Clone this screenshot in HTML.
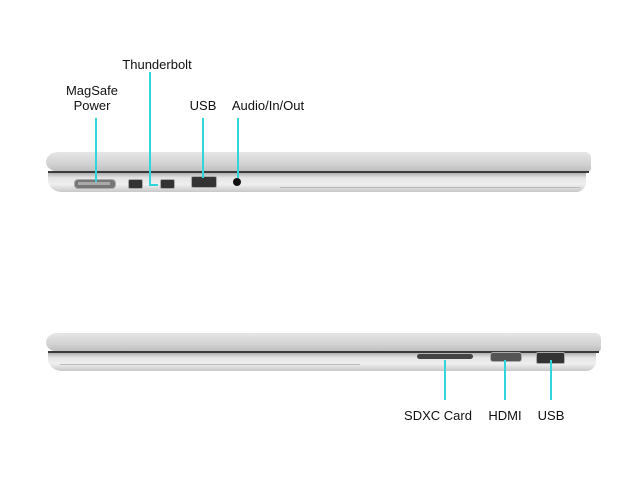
<!DOCTYPE html>
<html><head><style>
body{margin:0;width:640px;height:480px;background:#fff;position:relative;overflow:hidden;font-family:"Liberation Sans",sans-serif;}
.a{position:absolute}
.t{position:absolute;font-size:13px;color:#111;transform:translateX(-50%);white-space:nowrap;text-align:center;line-height:15px}
.c{position:absolute;background:#2fd6dc;width:2px}
.lid{position:absolute;border-radius:12px 6px 4px 14px/10px 6px 4px 10px;background:linear-gradient(#e6e6e6,#d2d2d2 60%,#bcbcbc)}
.base{position:absolute;border-radius:0 0 10px 14px/0 0 10px 12px;background:linear-gradient(#b0b0b0,#e4e4e4 25%,#efefef 60%,#c8c8c8)}
.gap{position:absolute;height:2px;background:#3a3a3a}
.p{position:absolute;background:#333;border:1px solid #aaa}
</style></head><body>
<div class="lid" style="left:46px;top:152px;width:545px;height:20px"></div>
<div class="gap" style="left:48px;top:171px;width:541px"></div>
<div class="base" style="left:48px;top:173px;width:538px;height:19px"></div>
<div class="a" style="left:74px;top:179px;width:40px;height:8px;background:#777;border-radius:4px;border:1px solid #aaa"></div>
<div class="a" style="left:78px;top:182px;width:32px;height:3px;background:#aaa"></div>
<div class="p" style="left:128px;top:179px;width:13px;height:8px;border-radius:2px"></div>
<div class="p" style="left:160px;top:179px;width:13px;height:8px;border-radius:2px"></div>
<div class="p" style="left:191px;top:176px;width:24px;height:10px;border-radius:2px"></div>
<div class="a" style="left:233px;top:178px;width:8px;height:8px;border-radius:50%;background:#111"></div>
<div class="a" style="left:280px;top:187px;width:300px;height:1px;background:#bbb"></div>
<div class="lid" style="left:46px;top:333px;width:555px;height:19px"></div>
<div class="gap" style="left:48px;top:351px;width:551px"></div>
<div class="base" style="left:48px;top:353px;width:548px;height:18px"></div>
<div class="a" style="left:417px;top:354px;width:56px;height:5px;background:#444;border-radius:3px"></div>
<div class="p" style="left:490px;top:352px;width:30px;height:8px;border-radius:3px;background:#555"></div>
<div class="p" style="left:536px;top:352px;width:27px;height:10px;border-radius:2px"></div>
<div class="a" style="left:60px;top:364px;width:300px;height:1px;background:#bbb"></div>
<div class="c" style="left:95px;top:118px;height:64px"></div>
<div class="c" style="left:149px;top:72px;height:113px"></div>
<div class="a" style="left:149px;top:184px;width:9px;height:2px;background:#2fd6dc"></div>
<div class="c" style="left:202px;top:118px;height:60px"></div>
<div class="c" style="left:237px;top:118px;height:60px"></div>
<div class="c" style="left:444px;top:360px;height:40px"></div>
<div class="c" style="left:504px;top:360px;height:40px"></div>
<div class="c" style="left:550px;top:360px;height:40px"></div>
<div class="t" style="left:92px;top:83px">MagSafe<br>Power</div>
<div class="t" style="left:157px;top:57px">Thunderbolt</div>
<div class="t" style="left:203px;top:98px">USB</div>
<div class="t" style="left:268px;top:98px">Audio/In/Out</div>
<div class="t" style="left:438px;top:408px">SDXC Card</div>
<div class="t" style="left:505px;top:408px">HDMI</div>
<div class="t" style="left:551px;top:408px">USB</div>
</body></html>
